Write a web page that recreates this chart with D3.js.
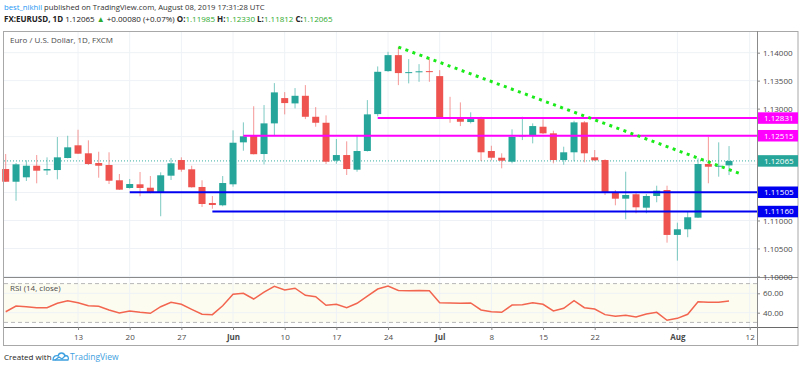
<!DOCTYPE html>
<html>
<head>
<meta charset="utf-8">
<script src="https://cdn.jsdelivr.net/npm/d3@7"></script>
<style>
  body { margin: 0; background: #fff; }
  svg { display: block; font-family: 'Open Sans', sans-serif; }
</style>
</head>
<body>
<div id="chart"></div>
<script>
// EURUSD daily candles, May 2 - Aug 8 2019
const dates = [
  '2019-05-02','2019-05-03','2019-05-06','2019-05-07','2019-05-08','2019-05-09','2019-05-10',
  '2019-05-13','2019-05-14','2019-05-15','2019-05-16','2019-05-17','2019-05-20','2019-05-21',
  '2019-05-22','2019-05-23','2019-05-24','2019-05-27','2019-05-28','2019-05-29','2019-05-30',
  '2019-05-31','2019-06-03','2019-06-04','2019-06-05','2019-06-06','2019-06-07','2019-06-10',
  '2019-06-11','2019-06-12','2019-06-13','2019-06-14','2019-06-17','2019-06-18','2019-06-19',
  '2019-06-20','2019-06-21','2019-06-24','2019-06-25','2019-06-26','2019-06-27','2019-06-28',
  '2019-07-01','2019-07-02','2019-07-03','2019-07-04','2019-07-05','2019-07-08','2019-07-09',
  '2019-07-10','2019-07-11','2019-07-12','2019-07-15','2019-07-16','2019-07-17','2019-07-18',
  '2019-07-19','2019-07-22','2019-07-23','2019-07-24','2019-07-25','2019-07-26','2019-07-29',
  '2019-07-30','2019-07-31','2019-08-01','2019-08-02','2019-08-05','2019-08-06','2019-08-07',
  '2019-08-08'
]
const futureDates = ['2019-08-09', '2019-08-12']

const opens = [
  1.11920, 1.11693, 1.11772, 1.11979, 1.11894, 1.11902, 1.12117, 1.12344, 1.12201, 1.12027,
  1.11992, 1.11719, 1.11581, 1.11647, 1.11586, 1.11492, 1.11801, 1.12081, 1.11915, 1.11599,
  1.11313, 1.11272, 1.11647, 1.12397, 1.12510, 1.12188, 1.12736, 1.13188, 1.13093, 1.13229,
  1.12854, 1.12747, 1.12069, 1.12170, 1.11908, 1.12242, 1.12902, 1.13670, 1.13956, 1.13635,
  1.13658, 1.13670, 1.13581, 1.12836, 1.12826, 1.12760, 1.12813, 1.12242, 1.12122, 1.12051,
  1.12504, 1.12522, 1.12676, 1.12558, 1.12081, 1.12219, 1.12754, 1.12129, 1.12081, 1.11497,
  1.11390, 1.11469, 1.11229, 1.11438, 1.11545, 1.10742, 1.10843, 1.11051, 1.12010, 1.11961,
  1.11985
]
const highs = [
  1.12188, 1.12027, 1.12076, 1.12170, 1.12129, 1.12492, 1.12515, 1.12622, 1.12433, 1.12229,
  1.12219, 1.11831, 1.11742, 1.11867, 1.11795, 1.11861, 1.12117, 1.12129, 1.11979, 1.11719,
  1.11438, 1.11795, 1.12611, 1.12754, 1.13042, 1.13063, 1.13456, 1.13295, 1.13367, 1.13420,
  1.13027, 1.12879, 1.12456, 1.12415, 1.12527, 1.13152, 1.13754, 1.14015, 1.14104, 1.13885,
  1.13795, 1.13897, 1.13688, 1.13211, 1.13111, 1.12933, 1.12854, 1.12336, 1.12201, 1.12629,
  1.12854, 1.12736, 1.12808, 1.12604, 1.12319, 1.12783, 1.12777, 1.12260, 1.12093, 1.11545,
  1.11872, 1.11515, 1.11474, 1.11622, 1.11622, 1.10961, 1.11158, 1.12111, 1.12497, 1.12397,
  1.12330
]
const lows = [
  1.11688, 1.11354, 1.11706, 1.11665, 1.11813, 1.11736, 1.12111, 1.12188, 1.11992, 1.11765,
  1.11652, 1.11545, 1.11569, 1.11433, 1.11486, 1.11076, 1.11724, 1.11872, 1.11588, 1.11242,
  1.11211, 1.11254, 1.11604, 1.12247, 1.12180, 1.12004, 1.12515, 1.12897, 1.13004, 1.12813,
  1.12676, 1.12010, 1.12015, 1.11813, 1.11872, 1.12233, 1.12861, 1.13658, 1.13420, 1.13451,
  1.13479, 1.13479, 1.12831, 1.12747, 1.12688, 1.12736, 1.12063, 1.12076, 1.11933, 1.12022,
  1.12438, 1.12379, 1.12545, 1.12022, 1.11997, 1.12058, 1.12040, 1.12063, 1.11456, 1.11272,
  1.11022, 1.11129, 1.11129, 1.11326, 1.10604, 1.10283, 1.10701, 1.11045, 1.11665, 1.11783,
  1.11812
]
const closes = [
  1.11693, 1.12004, 1.11979, 1.11890, 1.11920, 1.12129, 1.12308, 1.12194, 1.12010, 1.11979,
  1.11711, 1.11551, 1.11652, 1.11581, 1.11492, 1.11808, 1.12022, 1.11908, 1.11594, 1.11295,
  1.11277, 1.11670, 1.12390, 1.12504, 1.12185, 1.12736, 1.13290, 1.13099, 1.13229, 1.12854,
  1.12747, 1.12051, 1.12170, 1.11920, 1.12242, 1.12897, 1.13658, 1.13956, 1.13635, 1.13652,
  1.13667, 1.13652, 1.12836, 1.12822, 1.12765, 1.12813, 1.12219, 1.12122, 1.12069, 1.12497,
  1.12527, 1.12688, 1.12558, 1.12081, 1.12219, 1.12754, 1.12201, 1.12076, 1.11504, 1.11390,
  1.11456, 1.11236, 1.11438, 1.11533, 1.10742, 1.10843, 1.11058, 1.12010, 1.11961, 1.11979,
  1.12065
]
const rsi = [
  41.0, 46.9, 46.2, 45.2, 45.2, 49.7, 52.4, 50.3, 47.2, 46.6,
  42.8, 39.7, 41.8, 40.4, 39.4, 46.2, 50.7, 48.7, 43.5, 38.4,
  38.0, 47.2, 59.0, 60.0, 54.1, 61.3, 67.2, 63.4, 65.2, 57.9,
  56.5, 47.6, 48.7, 45.2, 49.7, 57.2, 64.4, 67.5, 62.9, 62.7,
  62.8, 62.6, 50.3, 50.0, 49.7, 50.0, 42.8, 41.0, 40.4, 47.9,
  48.2, 50.3, 48.7, 41.8, 44.5, 52.4, 45.2, 43.8, 38.0, 36.3,
  37.3, 35.6, 38.7, 40.4, 32.2, 34.2, 38.4, 51.3, 50.7, 50.7,
  52.1
]

// horizontal levels drawn by the author
const levelPrices = [1.12831, 1.12515, 1.11505, 1.11160]
const levelStarts = ['2019-06-21', '2019-06-04', '2019-05-20', '2019-05-30']
const levelColors = ['#ff00ff', '#ff00ff', '#0000f0', '#0000f0']

// dotted trend line
const trendDates = ['2019-06-25', '2019-08-09']
const trendPrices = [1.14100, 1.11842]

const lastPrice = 1.12065

const priceTicks = [1.100, 1.105, 1.110, 1.115, 1.120, 1.125, 1.130, 1.135, 1.140]
const rsiTicks = [60, 40]
const rsiBands = [70, 30]
const tickDates = ['2019-05-13','2019-05-20','2019-05-27','2019-06-03','2019-06-10','2019-06-17',
  '2019-06-24','2019-07-01','2019-07-08','2019-07-15','2019-07-22','2019-08-01','2019-08-12']
const tickLabels = ['13','20','27','Jun','10','17','24','Jul','8','15','22','Aug','12']
const boldTicks = ['Jun', 'Jul', 'Aug']

const green = '#26a69a'
const red = '#ef5350'
const gridColor = '#eef2f6'
const textColor = '#4a4a4a'

const width = 800
const height = 368
const paneLeft = 4
const axisX = 757
const frameRight = 798
const frameTop = 31
const mainBottom = 277
const rsiBottom = 327
const frameBottom = 345

const axisDates = dates.concat(futureDates)
const idx = d => axisDates.indexOf(d)

const svg = d3.select('#chart').append('svg')
  .attr('width', width)
  .attr('height', height)

const x = d3.scaleLinear().domain([0, axisDates.length - 1]).range([5.7, 749.7])
const y = d3.scaleLinear().domain([1.0999, 1.1428]).range([mainBottom, 37])
const yr = d3.scaleLinear().domain([30, 70]).range([322.4, 283.6])

// header
const head1 = svg.append('text').attr('x', 4).attr('y', 10).attr('font-size', 7.7).attr('fill', '#333')
head1.append('tspan').attr('fill', '#2196f3').text('best_nikhil')
head1.append('tspan').text(' published on TradingView.com, August 08, 2019 17:31:28 UTC')

const head2 = svg.append('text').attr('x', 4).attr('y', 22).attr('font-size', 8).attr('fill', '#222')
const valGreen = '#2eaa2e'
const parts = [
  ['FX:EURUSD, 1D', 'bold', null], [' 1.12065 ', null, null], ['\u25B2', null, valGreen],
  [' +0.00080 (+0.07%) ', null, null],
  ['O:', 'bold', null], ['1.11985', null, valGreen],
  [' H:', 'bold', null], ['1.12330', null, valGreen],
  [' L:', 'bold', null], ['1.11812', null, valGreen],
  [' C:', 'bold', null], ['1.12065', null, valGreen]
]
parts.forEach(p => {
  const t = head2.append('tspan').text(p[0])
  if (p[1]) t.attr('font-weight', p[1])
  if (p[2]) t.attr('fill', p[2])
})

// rsi band background
svg.append('rect')
  .attr('x', paneLeft).attr('width', axisX - paneLeft)
  .attr('y', yr(rsiBands[0])).attr('height', yr(rsiBands[1]) - yr(rsiBands[0]))
  .attr('fill', '#fdfcf1')

// grid
const tickIdx = tickDates.map(idx)
svg.append('g').selectAll('line').data(tickIdx).enter().append('line')
  .attr('x1', d => x(d)).attr('x2', d => x(d))
  .attr('y1', frameTop).attr('y2', rsiBottom)
  .attr('stroke', gridColor)
svg.append('g').selectAll('line').data(priceTicks).enter().append('line')
  .attr('x1', paneLeft).attr('x2', axisX)
  .attr('y1', d => y(d)).attr('y2', d => y(d))
  .attr('stroke', gridColor)
svg.append('g').selectAll('line').data(rsiTicks).enter().append('line')
  .attr('x1', paneLeft).attr('x2', axisX)
  .attr('y1', d => yr(d)).attr('y2', d => yr(d))
  .attr('stroke', gridColor)
svg.append('g').selectAll('line').data(rsiBands).enter().append('line')
  .attr('x1', paneLeft).attr('x2', axisX)
  .attr('y1', d => yr(d)).attr('y2', d => yr(d))
  .attr('stroke', '#b8b8b8')
  .attr('stroke-dasharray', '4,3')

// last price dotted line
svg.append('line')
  .attr('x1', paneLeft).attr('x2', axisX)
  .attr('y1', y(lastPrice)).attr('y2', y(lastPrice))
  .attr('stroke', green).attr('stroke-dasharray', '1,2').attr('opacity', 0.9)

// candles
const candles = dates.map((d, i) => ({ i: i, o: opens[i], h: highs[i], l: lows[i], c: closes[i] }))
const cg = svg.append('g').selectAll('g').data(candles).enter().append('g')
cg.append('line')
  .attr('x1', d => x(d.i)).attr('x2', d => x(d.i))
  .attr('y1', d => y(d.h)).attr('y2', d => y(d.l))
  .attr('stroke', d => d.c >= d.o ? green : red)
  .attr('stroke-opacity', 0.6)
cg.append('rect')
  .attr('x', d => x(d.i) - 3.5)
  .attr('width', 7)
  .attr('y', d => y(Math.max(d.o, d.c)))
  .attr('height', d => Math.max(1, Math.abs(y(d.o) - y(d.c))))
  .attr('fill', d => d.c >= d.o ? green : red)

// levels
svg.append('g').selectAll('line').data(levelPrices).enter().append('line')
  .attr('x1', (d, i) => x(idx(levelStarts[i])))
  .attr('x2', axisX)
  .attr('y1', d => y(d)).attr('y2', d => y(d))
  .attr('stroke', (d, i) => levelColors[i])
  .attr('stroke-width', 2)

// trend line
svg.append('line')
  .attr('x1', x(idx(trendDates[0]))).attr('y1', y(trendPrices[0]))
  .attr('x2', x(idx(trendDates[1]))).attr('y2', y(trendPrices[1]))
  .attr('stroke', '#1aea1a')
  .attr('stroke-width', 3)
  .attr('stroke-dasharray', '3,4.5')

// rsi line
svg.append('path')
  .datum(rsi)
  .attr('fill', 'none')
  .attr('stroke', '#f2654f')
  .attr('stroke-width', 1.5)
  .attr('d', d3.line().x((d, i) => x(i)).y(d => yr(d)))

// pane titles
svg.append('text').attr('x', 10).attr('y', 43).attr('font-size', 8).attr('fill', textColor)
  .text('Euro / U.S. Dollar, 1D, FXCM')
svg.append('text').attr('x', 10).attr('y', 291).attr('font-size', 8).attr('fill', textColor)
  .text('RSI (14, close)')

// frame and separators
svg.append('rect')
  .attr('x', 3.5).attr('y', frameTop + 0.5)
  .attr('width', frameRight - 3.5).attr('height', frameBottom - frameTop)
  .attr('fill', 'none').attr('stroke', '#a8a8a8')
svg.append('line').attr('x1', paneLeft).attr('x2', frameRight).attr('y1', mainBottom + 0.5).attr('y2', mainBottom + 0.5).attr('stroke', '#8a8a8a')
svg.append('line').attr('x1', paneLeft).attr('x2', frameRight).attr('y1', rsiBottom + 0.5).attr('y2', rsiBottom + 0.5).attr('stroke', '#6a6a6a')
svg.append('line').attr('x1', axisX + 0.5).attr('x2', axisX + 0.5).attr('y1', frameTop).attr('y2', frameBottom).attr('stroke', '#8a8a8a')

// price labels on the axis (levels + last price)
const labelData = levelPrices.map((p, i) => ({ p: p, c: levelColors[i] }))
  .concat([{ p: lastPrice, c: green }])
const boxH = 11.5

// price axis, hiding tick labels that sit under a coloured price box
const pAxis = svg.append('g')
  .attr('transform', `translate(${axisX},0)`)
  .call(d3.axisRight(y).tickValues(priceTicks).tickFormat(d3.format('.5f')).tickSize(3).tickPadding(3))
pAxis.select('.domain').remove()
pAxis.selectAll('text').attr('font-size', 8).attr('fill', textColor).attr('font-family', 'Open Sans, sans-serif')
  .style('display', d => labelData.some(l => Math.abs(y(l.p) - y(d)) < 8) ? 'none' : null)
pAxis.selectAll('line').attr('stroke', '#888')

const rAxis = svg.append('g')
  .attr('transform', `translate(${axisX},0)`)
  .call(d3.axisRight(yr).tickValues(rsiTicks).tickFormat(d3.format('.2f')).tickSize(3).tickPadding(3))
rAxis.select('.domain').remove()
rAxis.selectAll('text').attr('font-size', 8).attr('fill', textColor).attr('font-family', 'Open Sans, sans-serif')
rAxis.selectAll('line').attr('stroke', '#888')

const lg = svg.append('g').selectAll('g').data(labelData).enter().append('g')
  .attr('transform', d => `translate(${axisX + 1},${y(d.p)})`)
lg.append('rect').attr('x', 0).attr('y', -boxH / 2).attr('width', frameRight - axisX - 1).attr('height', boxH)
  .attr('fill', d => d.c)
lg.append('text').attr('x', 6).attr('dy', '0.35em').attr('font-size', 8).attr('fill', '#fff')
  .text(d => d3.format('.5f')(d.p))

// time axis
const tAxis = svg.append('g')
  .attr('transform', `translate(0,${rsiBottom})`)
  .call(d3.axisBottom(x).tickValues(tickIdx).tickFormat((d, i) => tickLabels[i]).tickSize(3).tickPadding(4))
tAxis.select('.domain').remove()
tAxis.selectAll('line').attr('stroke', '#888')
tAxis.selectAll('text').attr('font-size', 8).attr('fill', textColor).attr('font-family', 'Open Sans, sans-serif')
  .attr('font-weight', (d, i) => boldTicks.includes(tickLabels[i]) ? 'bold' : 'normal')

// footer
svg.append('text').attr('x', 4).attr('y', 360).attr('font-size', 8).attr('fill', '#222').text('Created with')
const logo = svg.append('g').attr('transform', 'translate(53,352)')
logo.append('path')
  .attr('d', 'M0,8 C0,4 3,3 5,4 C6,0 11,0 12,4 C15,3 16,6 15,8 Z')
  .attr('fill', 'none').attr('stroke', '#3ea0e0').attr('stroke-width', 1.3)
logo.append('path')
  .attr('d', 'M2,8 L6,5 L9,7 L13,3')
  .attr('fill', 'none').attr('stroke', '#3ea0e0').attr('stroke-width', 1.3)
svg.append('text').attr('x', 70).attr('y', 360).attr('font-size', 8.5).attr('fill', '#3ea0e0').text('TradingView')
</script>
</body>
</html>
